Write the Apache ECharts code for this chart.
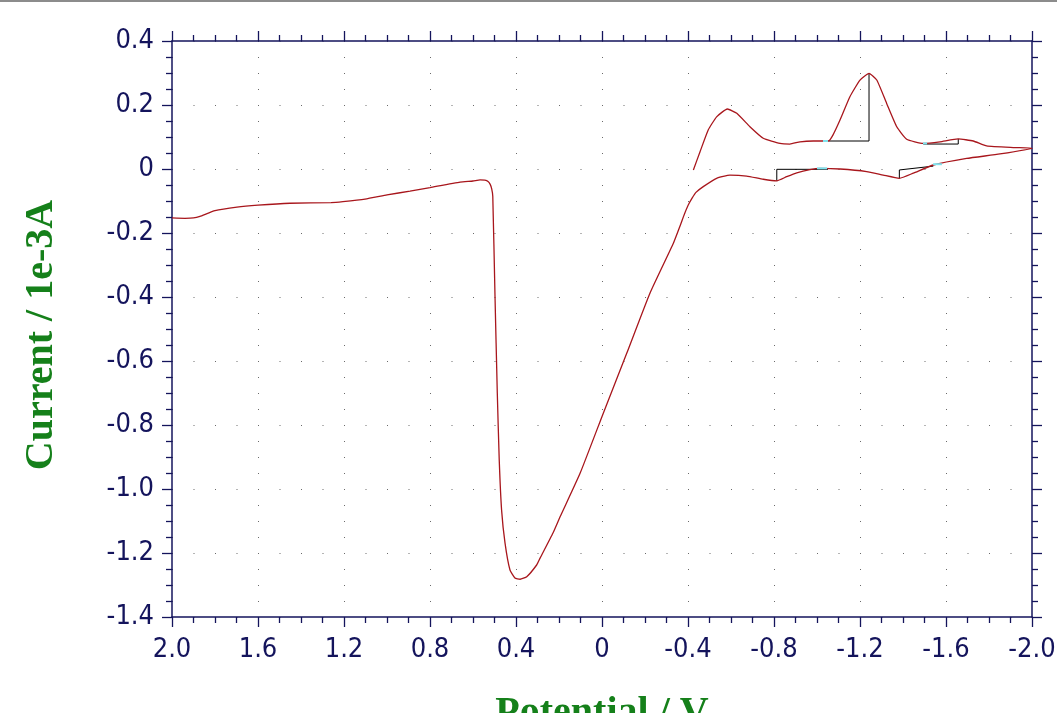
<!DOCTYPE html>
<html>
<head>
<meta charset="utf-8">
<script src="https://cdn.jsdelivr.net/npm/echarts@6/dist/echarts.min.js"></script>
<style>
html,body{margin:0;padding:0;background:#fff;}
#chart{width:1057px;height:713px;}
</style>
</head>
<body>
<div id="chart"></div>
<script>
// Cyclic voltammogram: potential (V) and current (1e-3 A), in scan order
const potential = [2.000,1.940,1.900,1.870,1.800,1.698,1.600,1.451,1.260,1.205,1.102,1.000,0.893,0.800,0.660,0.600,0.567,0.545,0.530,0.520,0.513,0.508,0.498,0.487,0.478,0.467,0.451,0.428,0.405,0.381,0.350,0.304,0.288,0.228,0.195,0.102,-0.006,-0.115,-0.223,-0.332,-0.363,-0.381,-0.400,-0.419,-0.437,-0.471,-0.533,-0.595,-0.673,-0.750,-0.813,-0.859,-0.906,-0.967,-1.014,-1.107,-1.231,-1.308,-1.383,-1.448,-1.541,-1.696,-1.851,-2.000,
  -1.913,-1.789,-1.727,-1.657,-1.572,-1.494,-1.417,-1.371,-1.324,-1.278,-1.242,-1.200,-1.153,-1.107,-1.074,-1.053,-0.983,-0.921,-0.874,-0.828,-0.750,-0.688,-0.627,-0.583,-0.533,-0.494,-0.456,-0.425];
const current = [-0.153,-0.154,-0.153,-0.148,-0.130,-0.119,-0.113,-0.107,-0.105,-0.102,-0.094,-0.081,-0.069,-0.058,-0.041,-0.0375,-0.034,-0.035,-0.039,-0.048,-0.062,-0.085,-0.3875,-0.700,-0.909,-1.066,-1.169,-1.253,-1.278,-1.282,-1.274,-1.2375,-1.216,-1.1375,-1.087,-0.951,-0.763,-0.576,-0.388,-0.232,-0.178,-0.145,-0.114,-0.091,-0.073,-0.055,-0.029,-0.019,-0.022,-0.032,-0.037,-0.024,-0.012,-0.002,0.002,0.000,-0.008,-0.019,-0.029,-0.013,0.0125,0.033,0.047,0.065,
  0.067,0.072,0.0875,0.094,0.085,0.080,0.093,0.132,0.205,0.278,0.299,0.278,0.226,0.153,0.106,0.0875,0.0875,0.085,0.078,0.080,0.096,0.132,0.174,0.1875,0.163,0.122,0.054,-0.003];

// Peak baseline markers (potential, current)
const peakMarkers = [
  {v:[-1.053,-1.242,-1.242], i:[0.0875,0.0875,0.299]},
  {v:[-1.494,-1.657,-1.657], i:[0.078,0.078,0.094]},
  {v:[-0.813,-0.813,-1.051], i:[-0.037,-0.001,-0.001]},
  {v:[-1.383,-1.383,-1.541], i:[-0.029,-0.003,0.009]}
];
const baselineEnds = [
  {v:[-1.028,-1.051], i:[0.0875,0.0875]},
  {v:[-1.000,-1.047], i:[0.002,0.002]},
  {v:[-1.493,-1.512], i:[0.080,0.080]},
  {v:[-1.540,-1.581], i:[0.015,0.015]}
];

const xTicks = {min:-2.0, max:2.0, interval:0.4};
const yTicks = {min:-1.4, max:0.4, interval:0.2};

const zip = (a,b) => a.map((x,k)=>[x,b[k]]);
const fmt = v => Math.abs(v) < 1e-9 ? '0' : v.toFixed(1);

const navy = '#14145c';
const labelFont = '"Liberation Sans Narrow","Arial Narrow","DejaVu Sans Condensed",sans-serif';
const tickStyle = {show:true, inside:false, length:10, lineStyle:{color:navy, width:1.3}};
const minorStyle = {show:true, splitNumber:4, length:6, lineStyle:{color:navy, width:1.3}};
const titleFont = '"Liberation Serif","Times New Roman",serif';

const chart = echarts.init(document.getElementById('chart'), null, {renderer:'canvas'});

const series = [{
  type:'line', xAxisIndex:0, yAxisIndex:0,
  data: zip(potential, current),
  showSymbol:false, smooth:0.15, smoothMonotone:'none',
  lineStyle:{color:'#a8161c', width:1.3},
  silent:true, z:5
}];
peakMarkers.forEach(m => series.push({
  type:'line', data: zip(m.v, m.i), showSymbol:false,
  lineStyle:{color:'#000', width:1}, silent:true, z:4
}));
baselineEnds.forEach(m => series.push({
  type:'line', data: zip(m.v, m.i), showSymbol:false,
  lineStyle:{color:'#7fe3ee', width:2}, silent:true, z:6
}));

chart.setOption({
  animation:false,
  backgroundColor:'#ffffff',
  grid:{left:172, top:41, width:860, height:576, containLabel:false, outerBoundsMode:'none'},
  graphic:[{type:'rect', shape:{x:0,y:0,width:1057,height:2}, style:{fill:'#8c8c8c'}}],
  xAxis:[{
    type:'value', inverse:true, min:xTicks.min, max:xTicks.max, interval:xTicks.interval,
    position:'bottom',
    axisLine:{show:true, onZero:false, lineStyle:{color:navy, width:1.5}},
    axisTick:tickStyle, minorTick:minorStyle,
    axisLabel:{color:navy, fontSize:27, fontFamily:labelFont, margin:19, formatter:fmt},
    splitLine:{show:true, lineStyle:{color:'#6a6a6a', width:1, type:[1,15]}},
    name:'Potential / V', nameLocation:'middle', nameGap:77,
    nameTextStyle:{color:'#15801a', fontSize:40, fontWeight:'bold', fontFamily:titleFont}
  },{
    type:'value', inverse:true, min:xTicks.min, max:xTicks.max, interval:xTicks.interval,
    position:'top',
    axisLine:{show:true, onZero:false, lineStyle:{color:navy, width:1.5}},
    axisTick:tickStyle, minorTick:minorStyle,
    axisLabel:{show:false}, splitLine:{show:false}
  }],
  yAxis:[{
    type:'value', min:yTicks.min, max:yTicks.max, interval:yTicks.interval,
    position:'left',
    axisLine:{show:true, onZero:false, lineStyle:{color:navy, width:1.5}},
    axisTick:tickStyle, minorTick:minorStyle,
    axisLabel:{color:navy, fontSize:27, fontFamily:labelFont, margin:18, formatter:fmt},
    splitLine:{show:true, lineStyle:{color:'#6a6a6a', width:1, type:[1,20.5]}},
    name:'Current / 1e-3A', nameLocation:'middle', nameGap:110, nameRotate:90,
    nameTextStyle:{color:'#15801a', fontSize:40, fontWeight:'bold', fontFamily:titleFont, padding:[0,12,0,0]}
  },{
    type:'value', min:yTicks.min, max:yTicks.max, interval:yTicks.interval,
    position:'right',
    axisLine:{show:true, onZero:false, lineStyle:{color:navy, width:1.5}},
    axisTick:tickStyle, minorTick:minorStyle,
    axisLabel:{show:false}, splitLine:{show:false}
  }],
  series: series
});
</script>
</body>
</html>
